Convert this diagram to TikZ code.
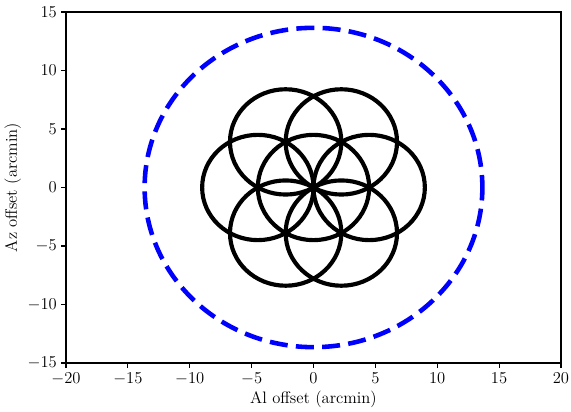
\documentclass[tikz,border=0pt]{standalone}
\usepackage{amsmath,amssymb}
\usepackage{xcolor}
\usepackage{tikz}
\usetikzlibrary{positioning,calc}
\definecolor{fovblue}{RGB}{0,0,255}
\definecolor{beamblack}{RGB}{0,0,0}
\tikzset{
  beamline/.style={draw=beamblack,line width=3pt},
  fovline/.style={draw=fovblue,line width=3.3pt,dash pattern=on 13pt off 6pt,dash phase=4pt},
  spineline/.style={draw=black,line width=0.8pt},
  tickline/.style={draw=black,line width=0.8pt},
  ticklabel/.style={inner sep=0pt,font=\fontsize{12}{14}\selectfont},
  axislabel/.style={inner sep=0pt,font=\fontsize{12}{14}\selectfont}
}
\newcommand{\beamcircle}[1]{\draw[beamline] #1 circle[radius=4.5];}
\newcommand{\xtick}[3]{\draw[tickline] (#1,-15) -- ++(0,-3.5pt); \node[ticklabel,anchor=north,yshift=-7pt] (#2) at (#1,-15) {#3};}
\newcommand{\ytick}[3]{\draw[tickline] (-20,#1) -- ++(-3.5pt,0); \node[ticklabel,anchor=east,xshift=-6.5pt] (#2) at (-20,#1) {#3};}

\begin{document}
\begin{tikzpicture}[x=0.0254cm,y=0.0254cm]
\useasboundingbox (0,0) rectangle (571,412);
\begin{scope}[shift={(313.5,224.5)},x=0.314325cm,y=0.29718cm]
% field of view
\draw[fovline] (0,0) circle[radius=13.65];
% seven beams
\beamcircle{(0,0)}
\beamcircle{(4.5,0)} \beamcircle{(-4.5,0)}
\beamcircle{(2.25,3.897)} \beamcircle{(-2.25,3.897)}
\beamcircle{(2.25,-3.897)} \beamcircle{(-2.25,-3.897)}
% frame and ticks
\draw[spineline] (-20,-15) rectangle (20,15);
\xtick{-20}{xtA}{$-20$} \xtick{-15}{xtB}{$-15$} \xtick{-10}{xtC}{$-10$}
\xtick{-5}{xtD}{$-5$} \xtick{0}{xtE}{$0$} \xtick{5}{xtF}{$5$}
\xtick{10}{xtG}{$10$} \xtick{15}{xtH}{$15$} \xtick{20}{xtI}{$20$}
\ytick{-15}{ytA}{$-15$} \ytick{-10}{ytB}{$-10$} \ytick{-5}{ytC}{$-5$}
\ytick{0}{ytD}{$0$} \ytick{5}{ytE}{$5$} \ytick{10}{ytF}{$10$} \ytick{15}{ytG}{$15$}
\end{scope}
\node[axislabel,anchor=base] (xlabel) at (313.5,8) {Al offset (arcmin)};
\node[axislabel,anchor=base,rotate=90] (ylabel) at (17,224.5) {Az offset (arcmin)};
\end{tikzpicture}
\end{document}
